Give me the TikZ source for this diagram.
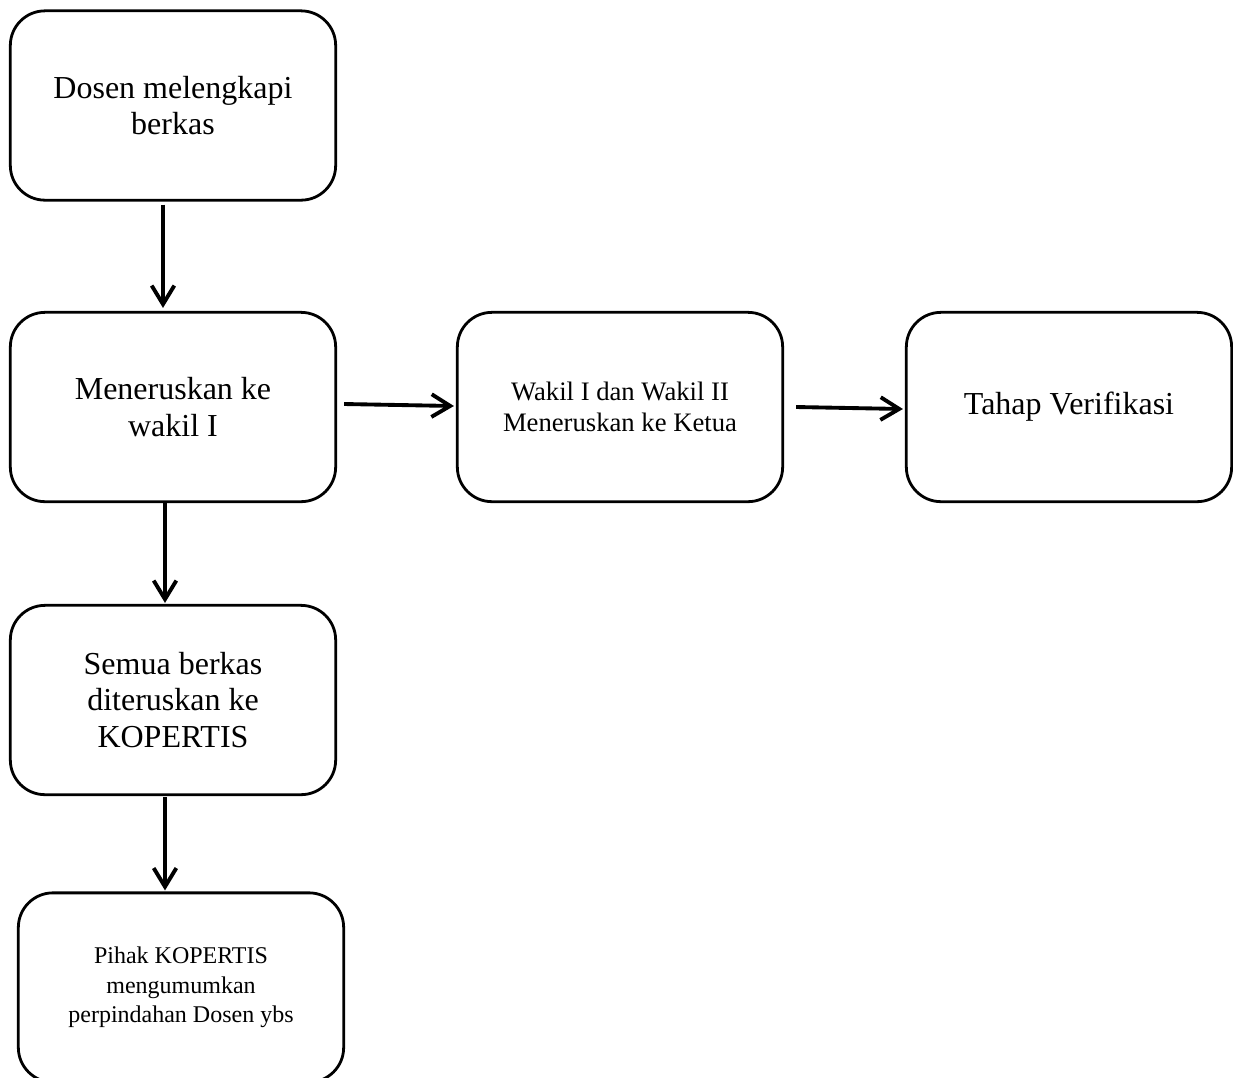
\documentclass[tikz,border=0pt]{standalone}
\usepackage{fontspec}
\setmainfont{Liberation Serif}
\usepackage{tikz}
\usetikzlibrary{arrows.meta,calc}
\tikzstyle{stepbox}=[draw, line width=1.05pt, rounded corners=13pt, minimum width=122pt, minimum height=71pt, align=center, inner sep=0pt, font=\fontsize{12}{13.8}\selectfont]
\tikzstyle{flow}=[line width=1.45pt, -{Straight Barb[length=7pt,width=8.5pt,line width=1.45pt]}]

\begin{document}
\begin{tikzpicture}[x=0.375pt,y=-0.375pt]
	\useasboundingbox (0,0) rectangle (1233,1077);
	\node[stepbox] (dosen) at (173,105.5) {Dosen melengkapi\\berkas};
	\node[stepbox] (teruskan) at (173,407) {Meneruskan ke\\wakil I};
	\node[stepbox, font=\fontsize{10}{11.5}\selectfont] (wakil) at (620,407) {Wakil I dan Wakil II\\Meneruskan ke Ketua};
	\node[stepbox] (verif) at (1069,407) {Tahap Verifikasi};
	\node[stepbox] (semua) at (173,700) {Semua berkas\\diteruskan ke\\KOPERTIS};
	\node[stepbox, font=\fontsize{9}{11}\selectfont] (pihak) at (181,987.5) {Pihak KOPERTIS\\mengumumkan\\perpindahan Dosen ybs};
	\draw[flow] ([shift={(-10,3)}]dosen.south) -- ([shift={(-10,-3)}]teruskan.north);
	\draw[flow] ([shift={(-8,0)}]teruskan.south) -- ([shift={(-8,-1)}]semua.north);
	\draw[flow] ([shift={(-8,1)}]semua.south) -- ([shift={(-16,-1)}]pihak.north);
	\draw[flow] ([shift={(7,-3)}]teruskan.east) -- ([shift={(-2,-1)}]wakil.west);
	\draw[flow] ([shift={(12,0)}]wakil.east) -- ([shift={(-2,2)}]verif.west);
\end{tikzpicture}
\end{document}
